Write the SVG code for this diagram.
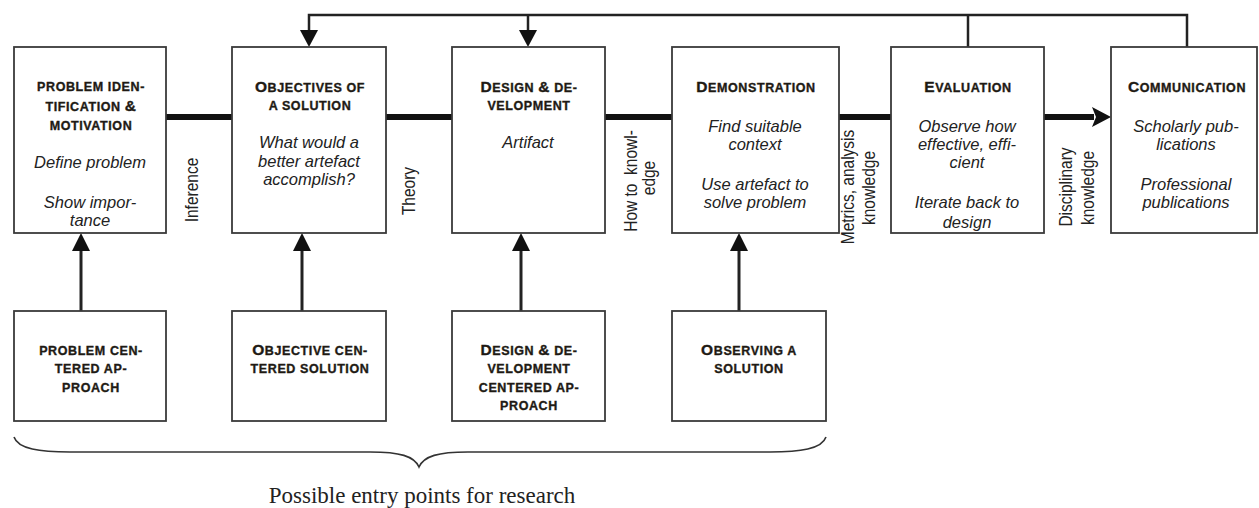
<svg xmlns="http://www.w3.org/2000/svg" width="1259" height="508" viewBox="0 0 1259 508">
<defs>
<style>
.box{fill:#fff;stroke:#3a3a3a;stroke-width:1.8}
.t{font-family:"Liberation Sans",Arial,sans-serif;font-weight:bold;font-size:12.5px;letter-spacing:0.6px;fill:#1e1a14;stroke:#1e1a14;stroke-width:0.35;text-anchor:middle}
.big{font-size:15.5px}
.i{font-family:"Liberation Sans",Arial,sans-serif;font-style:italic;font-size:16.5px;fill:#222;text-anchor:middle}
.lab{font-family:"Liberation Sans",Arial,sans-serif;font-size:15.5px;fill:#222;text-anchor:middle;white-space:pre}
.thick{stroke:#111;stroke-width:6;fill:none}
.thin{stroke:#222;stroke-width:2.5;fill:none}
.up{stroke:#222;stroke-width:3;fill:none}
.head{fill:#111}
.cap{font-family:"Liberation Serif","Times New Roman",serif;font-size:23px;fill:#222;text-anchor:middle}
</style>
<clipPath id="clipEval"><rect x="891" y="47" width="153" height="185"/></clipPath>
</defs>
<rect width="1259" height="508" fill="#fff"/>

<g id="connectors">
  <line class="thick" x1="166" y1="117" x2="232" y2="117"/>
  <line class="thick" x1="386" y1="117" x2="452" y2="117"/>
  <line class="thick" x1="605" y1="117" x2="672" y2="117"/>
  <line class="thick" x1="839" y1="117" x2="891" y2="117"/>
  <line class="thick" x1="1044" y1="117" x2="1094" y2="117"/>
  <polygon class="head" points="1092,107 1111,117 1092,127 1096,117"/>
  <path class="thin" d="M309,31 V15 H1187 V47"/>
  <line class="thin" x1="528" y1="15" x2="528" y2="31"/>
  <line class="thin" x1="968" y1="15" x2="968" y2="47"/>
  <polygon class="head" points="300,30 318,30 309,47"/>
  <polygon class="head" points="519,30 537,30 528,47"/>
  <line class="up" x1="81" y1="311" x2="81" y2="250"/>
  <line class="up" x1="302" y1="311" x2="302" y2="250"/>
  <line class="up" x1="521" y1="311" x2="521" y2="250"/>
  <line class="up" x1="739" y1="311" x2="739" y2="250"/>
  <polygon class="head" points="72,251 90,251 81,233"/>
  <polygon class="head" points="293,251 311,251 302,233"/>
  <polygon class="head" points="512,251 530,251 521,233"/>
  <polygon class="head" points="730,251 748,251 739,233"/>
  <text class="lab" transform="translate(198,190) rotate(-90) scale(1,1.2)">Inference</text>
  <text class="lab" transform="translate(415,191) rotate(-90) scale(1,1.2)">Theory</text>
  <text class="lab" xml:space="preserve" transform="translate(637,181) rotate(-90) scale(1,1.2)">How to  knowl-</text>
  <text class="lab" transform="translate(655,178) rotate(-90) scale(1,1.2)">edge</text>
  <text class="lab" transform="translate(854,187) rotate(-90) scale(1,1.2)">Metrics, analysis</text>
  <text class="lab" transform="translate(875,188) rotate(-90) scale(1,1.2)">knowledge</text>
  <text class="lab" transform="translate(1072,187) rotate(-90) scale(1,1.2)">Disciplinary</text>
  <text class="lab" transform="translate(1094,188) rotate(-90) scale(1,1.2)">knowledge</text>
</g>

<g id="problem-identification">
  <rect class="box" x="14" y="47" width="152" height="186"/>
  <text class="t" x="91" y="91">PROBLEM IDEN-</text>
  <text class="t" x="91" y="111">TIFICATION <tspan class="big">&amp;</tspan></text>
  <text class="t" x="91" y="130">MOTIVATION</text>
  <text class="i" x="90" y="168">Define problem</text>
  <text class="i" x="90" y="208">Show impor-</text>
  <text class="i" x="90" y="226">tance</text>
</g>

<g id="objectives">
  <rect class="box" x="232" y="47" width="154" height="186"/>
  <text class="t" x="310" y="92"><tspan class="big">O</tspan>BJECTIVES OF</text>
  <text class="t" x="310" y="110">A SOLUTION</text>
  <text class="i" x="309" y="148">What would a</text>
  <text class="i" x="309" y="167">better artefact</text>
  <text class="i" x="309" y="185">accomplish?</text>
</g>

<g id="design">
  <rect class="box" x="452" y="47" width="153" height="186"/>
  <text class="t" x="529" y="92"><tspan class="big">D</tspan>ESIGN <tspan class="big">&amp;</tspan> DE-</text>
  <text class="t" x="529" y="110">VELOPMENT</text>
  <text class="i" x="528" y="148">Artifact</text>
</g>

<g id="demonstration">
  <rect class="box" x="672" y="47" width="167" height="186"/>
  <text class="t" x="756" y="92"><tspan class="big">D</tspan>EMONSTRATION</text>
  <text class="i" x="755" y="132">Find suitable</text>
  <text class="i" x="755" y="150">context</text>
  <text class="i" x="755" y="190">Use artefact to</text>
  <text class="i" x="755" y="208">solve problem</text>
</g>

<g id="evaluation">
  <rect class="box" x="891" y="47" width="153" height="186"/>
  <text class="t" x="968" y="92"><tspan class="big">E</tspan>VALUATION</text>
  <text class="i" x="967" y="132">Observe how</text>
  <text class="i" x="967" y="150">effective, effi-</text>
  <text class="i" x="967" y="168">cient</text>
  <text class="i" x="967" y="208">Iterate back to</text>
  <text class="i" x="967" y="228" clip-path="url(#clipEval)">design</text>
</g>

<g id="communication">
  <rect class="box" x="1111" y="47" width="146" height="186"/>
  <text class="t" x="1187" y="92"><tspan class="big">C</tspan>OMMUNICATION</text>
  <text class="i" x="1186" y="132">Scholarly pub-</text>
  <text class="i" x="1186" y="150">lications</text>
  <text class="i" x="1186" y="190">Professional</text>
  <text class="i" x="1186" y="208">publications</text>
</g>

<g id="problem-centered">
  <rect class="box" x="14" y="311" width="152" height="110"/>
  <text class="t" x="91" y="355">PROBLEM CEN-</text>
  <text class="t" x="91" y="373">TERED AP-</text>
  <text class="t" x="91" y="392">PROACH</text>
</g>

<g id="objective-centered">
  <rect class="box" x="232" y="311" width="154" height="110"/>
  <text class="t" x="310" y="355"><tspan class="big">O</tspan>BJECTIVE CEN-</text>
  <text class="t" x="310" y="373">TERED SOLUTION</text>
</g>

<g id="design-centered">
  <rect class="box" x="452" y="311" width="153" height="110"/>
  <text class="t" x="529" y="355"><tspan class="big">D</tspan>ESIGN <tspan class="big">&amp;</tspan> DE-</text>
  <text class="t" x="529" y="373">VELOPMENT</text>
  <text class="t" x="529" y="392">CENTERED AP-</text>
  <text class="t" x="529" y="410">PROACH</text>
</g>

<g id="observing">
  <rect class="box" x="672" y="311" width="154" height="110"/>
  <text class="t" x="749" y="355"><tspan class="big">O</tspan>BSERVING A</text>
  <text class="t" x="749" y="373">SOLUTION</text>
</g>

<g id="entry-points">
  <path d="M14,437 C18,449 40,452 70,452 L370,452 C400,452 414,456 419,467 C424,456 438,452 468,452 L770,452 C800,452 822,449 826,437" fill="none" stroke="#333" stroke-width="1.6"/>
  <text class="cap" x="422" y="503">Possible entry points for research</text>
</g>
</svg>
